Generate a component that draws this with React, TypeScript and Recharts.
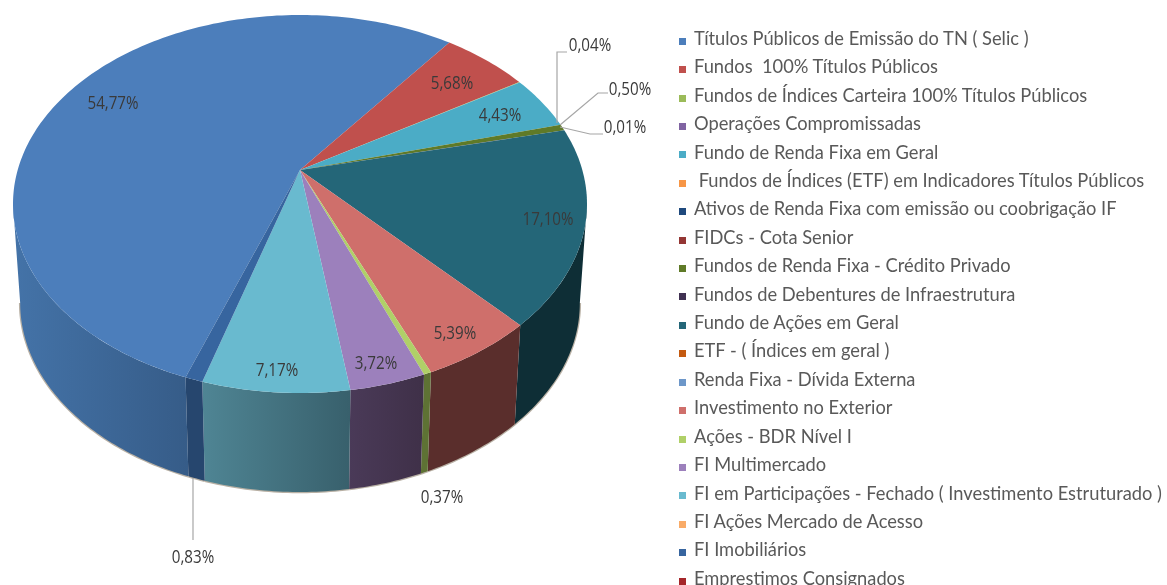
import React from "react";
import { PieChart, Pie, Legend, Customized } from "recharts";

const categories = [
  "Títulos Públicos de Emissão do TN ( Selic )",
  "Fundos  100% Títulos Públicos",
  "Fundos de Índices Carteira 100% Títulos Públicos",
  "Operações Compromissadas",
  "Fundo de Renda Fixa em Geral",
  " Fundos de Índices (ETF) em Indicadores Títulos Públicos",
  "Ativos de Renda Fixa com emissão ou coobrigação IF",
  "FIDCs - Cota Senior",
  "Fundos de Renda Fixa - Crédito Privado",
  "Fundos de Debentures de Infraestrutura",
  "Fundo de Ações em Geral",
  "ETF - ( Índices em geral )",
  "Renda Fixa - Dívida Externa",
  "Investimento no Exterior",
  "Ações - BDR Nível I",
  "FI Multimercado",
  "FI em Participações - Fechado ( Investimento Estruturado )",
  "FI Ações Mercado de Acesso",
  "FI Imobiliários",
  "Emprestimos Consignados",
];
const values = [54.77, 5.68, 0.04, 0, 4.43, 0, 0, 0, 0.5, 0.01, 17.1, 0, 0, 5.39, 0.37, 3.72, 7.17, 0, 0.83, 0];
const topColors = [
  "#4C7EBB", "#C0504D", "#9BBB59", "#8064A2", "#4BACC6", "#F79646", "#1F497D", "#943634", "#5F7A28", "#403152",
  "#246678", "#C45A10", "#6D97C9", "#CF6F6B", "#B0D068", "#9C80BC", "#69BACF", "#F9AB68", "#37659F", "#A5262A",
];
const wallFrom = [
  "#4473A8", "#7A3230", "#5E7234", "#44344F", "#2F6F80", "#A0601E", "#1A3050", "#5A2E2C", "#4A5F20", "#2A2038",
  "#0E2E36", "#7A3A08", "#45628A", "#5A2E2C", "#5E7234", "#4A3A58", "#4F8594", "#A0703F", "#26466E", "#6A1A1A",
];
const wallTo = [
  "#365C88", "#7A3230", "#5E7234", "#44344F", "#2F6F80", "#A0601E", "#1A3050", "#5A2E2C", "#4A5F20", "#2A2038",
  "#0E2E36", "#7A3A08", "#45628A", "#5A2E2C", "#5E7234", "#3F3048", "#38606C", "#A0703F", "#26466E", "#6A1A1A",
];

const labelPlaces: Record<number, { x: number; y: number; line?: number[][] }> = {
  0: { x: 113, y: 102 },
  1: { x: 452, y: 82 },
  2: { x: 590, y: 44, line: [[557, 123], [557, 52], [567, 52]] },
  4: { x: 500, y: 114 },
  8: { x: 630, y: 88, line: [[560, 125], [598, 93], [608, 93]] },
  9: { x: 625, y: 126, line: [[560, 127], [590, 134], [603, 134]] },
  10: { x: 548, y: 218 },
  13: { x: 455, y: 332 },
  14: { x: 442, y: 496 },
  15: { x: 376, y: 362 },
  16: { x: 277, y: 369 },
  18: { x: 193, y: 556, line: [[193, 478], [193, 540]] },
};

const rows = categories.map((name, i) => ({ name, value: values[i], fill: topColors[i] }));

// projection of the tilted disc
const Y_RATIO = 0.6585;
const APEX_UP = 34;
const DEPTH = 99;
const BOTTOM_RX = 0.975;
const warp = [
  [255.8, 246.5], [58.6, 58.6], [38, 40], [21, 23.7], [-41.4, -40], [-60.8, -63], [-75.5, -80], [-101.3, -110], [-104.2, -113.5],
];
const project = (a: number) => {
  if (a >= warp[0][0]) return warp[0][1];
  for (let i = 0; i < warp.length - 1; i++) {
    const [d1, s1] = warp[i];
    const [d2, s2] = warp[i + 1];
    if (a <= d1 && a >= d2) return s2 + ((a - d2) / (d1 - d2)) * (s1 - s2);
  }
  return warp[warp.length - 1][1];
};
const rad = (a: number) => (a * Math.PI) / 180;

const arc = (cx: number, cy: number, rx: number, ry: number, from: number, to: number) => {
  const n = Math.max(2, Math.ceil(Math.abs(from - to)));
  const pts: string[] = [];
  for (let i = 0; i <= n; i++) {
    const a = rad(from + ((to - from) * i) / n);
    pts.push(`${(cx + rx * Math.cos(a)).toFixed(2)},${(cy - ry * Math.sin(a)).toFixed(2)}`);
  }
  return pts;
};

const Slice3D = (props: any) => {
  const { cx, cy, outerRadius, startAngle, endAngle, index, value } = props;
  if (!value) return null;
  const a1 = project(startAngle);
  const a2 = project(endAngle);
  const ry = outerRadius * Y_RATIO;
  const top = arc(cx, cy, outerRadius, ry, a1, a2);
  const walls: React.ReactNode[] = [];
  for (const k of [-1, 0, 1]) {
    const lo = Math.max(a2, 180 + 360 * k);
    const hi = Math.min(a1, 360 + 360 * k);
    if (hi > lo) {
      const upper = arc(cx, cy, outerRadius, ry, hi, lo);
      const lower = arc(cx, cy + DEPTH, outerRadius * BOTTOM_RX, ry, lo, hi);
      walls.push(
        <g key={k}>
          <polyline points={lower.join(" ")} fill="none" stroke="#B8B0A4" strokeWidth={2.5} />
          <polygon points={[...upper, ...lower].join(" ")} fill={`url(#wall${index})`} />
        </g>
      );
    }
  }
  return (
    <g>
      <defs>
        <linearGradient id={`wall${index}`} x1="0" x2="1" y1="0" y2="0">
          <stop offset="0" stopColor={wallFrom[index]} />
          <stop offset="1" stopColor={wallTo[index]} />
        </linearGradient>
      </defs>
      {walls}
      <polygon points={[`${cx},${cy - APEX_UP}`, ...top].join(" ")} fill={topColors[index]} />
    </g>
  );
};

const SliceLabel = (props: any) => {
  const place = labelPlaces[props.index];
  if (!place) return null;
  const text = `${values[props.index].toFixed(2).replace(".", ",")}%`;
  return (
    <g>
      {place.line && <polyline points={place.line.map((p) => p.join(",")).join(" ")} fill="none" stroke="#A6A6A6" strokeWidth={1.2} />}
      <text x={place.x} y={place.y} textAnchor="middle" dominantBaseline="central" fontFamily="'Open Sans',sans-serif" fontSize={18} fill="#3A3A3A" textLength={text.length * 8.5} lengthAdjust="spacingAndGlyphs">
        {text}
      </text>
    </g>
  );
};

const Tick = () => <rect x={313.5} y={271} width={6.5} height={25} fill="#7FC400" />;

export default function App() {
  return (
    <div style={{ position: "absolute", left: 0, top: 0, width: 1167, height: 585, overflow: "hidden", background: "#fff", filter: "blur(0.5px)" }}>
      <PieChart width={1167} height={585} margin={{ top: 0, right: 0, bottom: 0, left: 0 }}>
        <Pie
          data={rows}
          dataKey="value"
          nameKey="name"
          cx={300}
          cy={204}
          innerRadius={0}
          outerRadius={287}
          startAngle={255.8}
          endAngle={-104.2}
          stroke="none"
          shape={Slice3D}
          label={SliceLabel}
          labelLine={false}
          isAnimationActive={false}
        />
        <Customized component={Tick} />
        <Legend
          layout="vertical"
          align="right"
          verticalAlign="top"
          iconType="square"
          iconSize={7}
          itemSorter={null}
          wrapperStyle={{ left: 679, right: "auto", top: 25, width: 488, lineHeight: "26.4px" }}
          formatter={(v: any) => (
            <span style={{ color: "#595959", fontFamily: "Lato, sans-serif", fontSize: 18.3, whiteSpace: "pre", paddingLeft: 4 }}>{v}</span>
          )}
        />
      </PieChart>
    </div>
  );
}
